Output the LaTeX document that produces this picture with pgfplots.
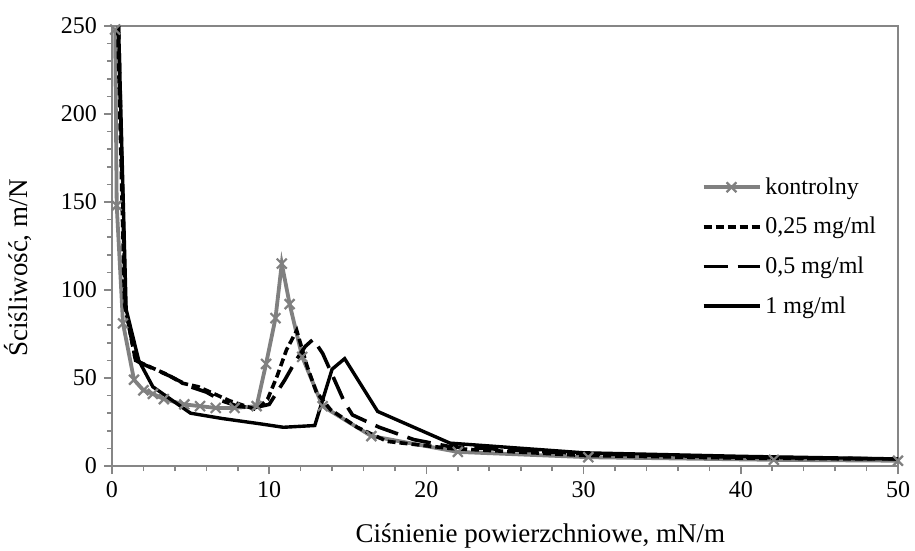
\documentclass[border=0pt]{standalone}
\usepackage{fontspec}
\setmainfont{Liberation Serif}
\usepackage{pgfplots}
\pgfplotsset{compat=1.18}
\definecolor{axgray}{RGB}{134,134,134}
\definecolor{sergray}{RGB}{128,128,128}
\newcommand{\fs}{\fontsize{12}{14}\selectfont}
\newcommand{\fl}{\fontsize{13.5}{15}\selectfont}
\begin{document}
\begin{tikzpicture}
\begin{axis}[
 scale only axis, width=393pt, height=220pt,
 xmin=0,xmax=50,ymin=0,ymax=250,
 xtick={0,10,...,50}, ytick={0,50,...,250},
 minor x tick num=4, minor y tick num=4,
 tick align=outside, tick pos=left,
 major tick length=4pt, minor tick length=2.5pt,
 every tick/.style={axgray, line width=0.8pt},
 axis line style={axgray, line width=1pt},
 /pgf/number format/assume math mode=true,
 tick label style={font=\fs},
 xlabel={Ciśnienie powierzchniowe, mN/m},
 ylabel={Ściśliwość, m/N},
 label style={font=\fl},
 xlabel style={at={(axis description cs:0.545,-0.159)}, anchor=center},
 ylabel style={at={(axis description cs:-0.1196,0.45)}, anchor=center},
 legend style={draw=none, fill=none, at={(rel axis cs:0.742,0.675)}, anchor=north west, font=\fs, row sep=6pt},
 legend cell align=left,
 legend image code/.code={\draw[mark repeat=2,mark phase=2] plot coordinates {(0pt,0pt) (14pt,0pt) (28pt,0pt)};},
]
\addplot[sergray, line width=1.9pt, mark=x, mark size=3.5pt, mark options={line width=1.1pt, solid}] coordinates {
(0.2,248)(0.3,148)(0.7,81)(1.4,49)(2.0,43)(2.6,41)(3.3,38)(4.6,35)(5.6,34)(6.6,33)(7.8,33)(9.2,34)(9.8,58)(10.4,84)(10.8,115)(11.3,92)(12.1,62)(13.4,34)(16.5,17)(22,8)(30.3,5)(42.1,3.5)(50,3)
};
\addlegendentry{kontrolny}
\addplot[black, line width=1.8pt, dash pattern=on 4pt off 2pt] coordinates {
(0.35,256)(0.8,92)(1.5,60)(2.5,56)(3.5,52)(4.5,47)(5.5,45)(6.5,41)(7.5,37)(8.5,34)(9.2,32)(9.9,38)(10.5,51)(11.1,66)(11.75,77)(12.4,57)(13,42)(13.9,32)(15.6,22)(17.5,14)(21.5,10)(30,6)(40,4.5)(48.7,4)
};
\addlegendentry{0,25 mg/ml}
\addplot[black, line width=1.8pt, dash pattern=on 12pt off 5pt] coordinates {
(0.4,256)(0.85,90)(1.5,60)(2.2,57)(3.7,51)(5,45)(6,42)(7,37)(8,34)(9,33)(10,35)(10.5,42)(11,49)(11.7,60)(12.3,68)(12.8,72)(13.4,64)(14,52)(14.8,36)(15.3,29)(17,22)(19.2,15)(21.5,11)(30,7)(40,5)(50,4)
};
\addlegendentry{0,5 mg/ml}
\addplot[black, line width=1.7pt] coordinates {
(0.4,256)(0.9,89)(1.7,60)(2.6,45)(5,30)(7,27)(9.4,24)(10.9,22)(12.9,23)(14,55)(14.8,61)(16.9,31)(21.5,13)(30,7.5)(40,5.5)(50,4)
};
\addlegendentry{1 mg/ml}
\end{axis}
\pgfresetboundingbox
\path ([shift={(-56pt,-42.5pt)}]current axis.south west) rectangle ([shift={(8.5pt,13pt)}]current axis.north east);
\end{tikzpicture}
\end{document}
